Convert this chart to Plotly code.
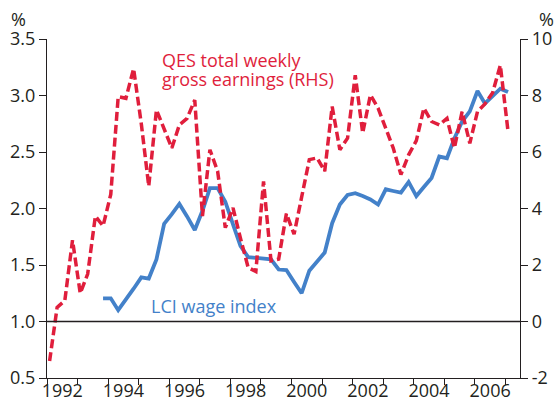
import pandas as pd
import plotly.graph_objects as go

# Quarterly observations, Q1 1992 .. Q1 2007
dates = pd.date_range("1992-02-01", periods=61, freq="3MS")

qes_total_weekly = [
    -1.4, 0.50, 0.74, 2.88, 1.00, 1.68, 3.73, 3.38, 4.50, 7.96,
    7.90, 8.95, 7.00, 4.79, 7.49, 6.80, 6.14, 6.96, 7.19, 7.84,
    3.73, 6.08, 5.32, 3.32, 4.02, 2.95, 1.91, 1.77, 4.96, 2.15,
    2.21, 3.82, 3.09, 4.40, 5.73, 5.79, 5.32, 7.61, 6.08, 6.49,
    8.72, 6.67, 8.02, 7.55, 6.80, 6.14, 5.20, 5.90, 6.40, 7.55,
    7.08, 6.96, 7.19, 6.14, 7.43, 6.31, 7.43, 7.70, 8.10, 9.07,
    6.73,
]

lci_wage_index = [None] * 7 + [
    1.205, 1.205, 1.10, 1.19, 1.29, 1.39, 1.38, 1.55, 1.865, 1.95,
    2.04, 1.93, 1.81, 1.98, 2.18, 2.18, 2.06, 1.86, 1.67, 1.57,
    1.565, 1.56, 1.55, 1.46, 1.455, 1.35, 1.25, 1.45, 1.53, 1.61,
    1.87, 2.035, 2.12, 2.135, 2.11, 2.08, 2.035, 2.17, 2.155, 2.14,
    2.235, 2.11, 2.19, 2.27, 2.46, 2.445, 2.62, 2.77, 2.86, 3.04,
    2.93, 3.00, 3.06, 3.03,
]

year_ticks = [f"{y}-01-01" for y in range(1992, 2008)]
year_label_pos = [f"{y}-07-02" for y in range(1992, 2007, 2)]
year_labels = [str(y) for y in range(1992, 2007, 2)]

left_vals = [0.5, 1.0, 1.5, 2.0, 2.5, 3.0, 3.5]
left_text = ["0.5", "1.0", "1.5", "2.0", "2.5", "3.0", "3.5"]
right_vals = [-2, 0, 2, 4, 6, 8, 10]
right_text = ["-2", "0", "2", "4", "6", "8", "10"]

RED = "#E01E3C"
BLUE = "#4381C9"
INK = "#231F20"
FONT = "Open Sans"

x_range = ["1992-01-01", "2007-06-24"]

fig = go.Figure()
fig.add_trace(go.Scatter(
    x=dates, y=lci_wage_index, mode="lines", yaxis="y", xaxis="x",
    line=dict(color=BLUE, width=3.8), connectgaps=False, showlegend=False,
))
fig.add_trace(go.Scatter(
    x=dates, y=qes_total_weekly, mode="lines", yaxis="y2", xaxis="x",
    line=dict(color=RED, width=3.5, dash="9px,4px"), showlegend=False,
))
# carrier for the year-label axis
fig.add_trace(go.Scatter(x=[], y=[], xaxis="x2", yaxis="y", showlegend=False))

axis_common = dict(showgrid=False, zeroline=False, showline=True,
                   linecolor=INK, linewidth=1.3, ticks="outside",
                   tickcolor=INK, tickwidth=1.3, ticklen=7, automargin=False,
                   tickfont=dict(family=FONT, size=18, color=INK))

fig.update_layout(
    width=556, height=405,
    margin=dict(l=47, r=36, t=39, b=27, pad=0, autoexpand=False),
    paper_bgcolor="white", plot_bgcolor="white",
    xaxis=dict(type="date", range=x_range, tickmode="array",
               tickvals=year_ticks, ticktext=[""] * len(year_ticks),
               showgrid=False, zeroline=False, showline=True, automargin=False,
               linecolor=INK, linewidth=1.3, ticks="outside",
               tickcolor=INK, tickwidth=1.3, ticklen=6),
    xaxis2=dict(type="date", range=x_range, overlaying="x", anchor="y",
                side="bottom", tickmode="array", tickvals=year_label_pos,
                ticktext=year_labels, showgrid=False, zeroline=False,
                showline=False, ticks="", automargin=False,
                tickfont=dict(family=FONT, size=18, color=INK)),
    yaxis=dict(range=[0.5, 3.5], tickmode="array", tickvals=left_vals,
               ticktext=left_text, side="left", **axis_common),
    yaxis2=dict(range=[-2, 10], tickmode="array", tickvals=right_vals,
                ticktext=right_text, side="right", overlaying="y",
                anchor="x", **axis_common),
    shapes=[dict(type="line", xref="paper", yref="y", x0=0, x1=1,
                 y0=1.0, y1=1.0, line=dict(color=INK, width=1.3))],
    annotations=[
        dict(text="%", xref="paper", yref="paper", x=-0.060, y=1.058,
             xanchor="center", yanchor="middle",
             showarrow=False, font=dict(family=FONT, size=18, color=INK)),
        dict(text="%", xref="paper", yref="paper", x=1.057, y=1.058,
             xanchor="center", yanchor="middle",
             showarrow=False, font=dict(family=FONT, size=18, color=INK)),
        dict(text="QES total weekly", xref="paper", yref="paper",
             x=0.239, y=0.938, xanchor="left", yanchor="middle",
             showarrow=False, font=dict(family=FONT, size=18, color=RED)),
        dict(text="gross earnings (RHS)", xref="paper", yref="paper",
             x=0.239, y=0.882, xanchor="left", yanchor="middle",
             showarrow=False, font=dict(family=FONT, size=18, color=RED)),
        dict(text="LCI wage index", xref="paper", yref="paper",
             x=0.216, y=0.212, xanchor="left", yanchor="middle",
             showarrow=False, font=dict(family=FONT, size=18, color=BLUE)),
    ],
)

fig.write_html(
    "out.html",
    config={"displayModeBar": False},
    post_script="document.body.style.margin='0';document.body.style.overflow='hidden';",
)
